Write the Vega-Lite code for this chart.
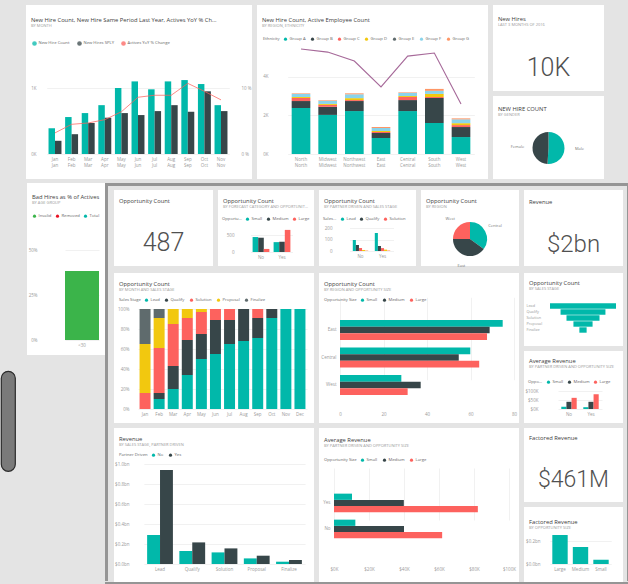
{
"background": "#e4e4e4",
"padding": {"top": 5, "left": 0, "right": 0, "bottom": 0},
"config": {
  "font": "Open Sans",
  "view": {"stroke": null},
  "point": {"size": 0, "opacity": 0, "strokeWidth": 0},
  "axis": {"domain": false, "ticks": false, "labelFontSize": 4.5, "labelColor": "#9a9a9a", "gridColor": "#ebebeb", "gridWidth": 0.7, "labelPadding": 2, "labelFlush": false, "labelOverlap": false},
  "title": {"anchor": "start", "frame": "group", "fontSize": 5.8, "fontWeight": "normal", "color": "#404040", "subtitleFontSize": 4, "subtitleColor": "#9a9a9a", "subtitlePadding": 1.5, "dx": 5, "font": "Open Sans", "subtitleFont": "Open Sans", "limit": 86},
  "legend": {"orient": "none", "direction": "horizontal", "titleOrient": "left", "labelFontSize": 4.2, "titleFontSize": 4.2, "titleFontWeight": "normal", "titleColor": "#666", "labelColor": "#666", "symbolSize": 10, "symbolType": "circle", "columnPadding": 4, "labelOffset": 1.5, "titlePadding": 3, "padding": 0, "labelLimit": 40}
},
"spacing": 4,
"resolve": {"scale": {"color": "independent", "theta": "independent", "x": "independent", "y": "independent", "xOffset": "independent", "yOffset": "independent"}},
"vconcat": [
 {"hconcat": [
   {"width": 20, "height": 174, "data": {"values": [{}]}, "mark": {"type": "point"}},
   {"width": 226, "height": 174, "view": {"fill": "white"},
    "title": {"text": "New Hire Count, New Hire Same Period Last Year, Actives YoY % Ch...", "subtitle": "BY MONTH", "offset": -23, "limit": 214},
    "layer": [
     {"data": {"values": [
       {"month": "Jan", "series": "New Hire Count", "value": 390}, {"month": "Jan", "series": "New Hires SPLY", "value": 200},
       {"month": "Feb", "series": "New Hire Count", "value": 560}, {"month": "Feb", "series": "New Hires SPLY", "value": 300},
       {"month": "Mar", "series": "New Hire Count", "value": 620}, {"month": "Mar", "series": "New Hires SPLY", "value": 470},
       {"month": "Apr", "series": "New Hire Count", "value": 740}, {"month": "Apr", "series": "New Hires SPLY", "value": 550},
       {"month": "May", "series": "New Hire Count", "value": 1000}, {"month": "May", "series": "New Hires SPLY", "value": 620},
       {"month": "Jun", "series": "New Hire Count", "value": 1100}, {"month": "Jun", "series": "New Hires SPLY", "value": 590},
       {"month": "Jul", "series": "New Hire Count", "value": 980}, {"month": "Jul", "series": "New Hires SPLY", "value": 650},
       {"month": "Aug", "series": "New Hire Count", "value": 1100}, {"month": "Aug", "series": "New Hires SPLY", "value": 740},
       {"month": "Sep", "series": "New Hire Count", "value": 1120}, {"month": "Sep", "series": "New Hires SPLY", "value": 640},
       {"month": "Oct", "series": "New Hire Count", "value": 1060}, {"month": "Oct", "series": "New Hires SPLY", "value": 950},
       {"month": "Nov", "series": "New Hire Count", "value": 740}, {"month": "Nov", "series": "New Hires SPLY", "value": 650}]},
      "mark": {"type": "bar"},
      "encoding": {
       "x": {"field": "month", "type": "nominal", "sort": null, "scale": {"range": [20.7, 203.3], "paddingInner": 0.22, "paddingOuter": 0.11}, "axis": {"title": null, "offset": -25, "labelAngle": 0, "labelExpr": "[datum.label, datum.label]"}},
       "xOffset": {"field": "series", "type": "nominal", "sort": null, "scale": {"paddingInner": 0, "paddingOuter": 0}},
       "y": {"field": "value", "type": "quantitative", "scale": {"domain": [0, 1500], "range": [149, 50], "nice": false}, "axis": {"title": null, "offset": -12, "values": [0, 1000], "labelExpr": "(datum.value/1000)+'K'"}},
       "color": {"field": "series", "type": "nominal", "sort": null, "scale": {"domain": ["New Hire Count", "New Hires SPLY", "Actives YoY % Change"], "range": ["#01B8AA", "#374649", "#FD625E"]}, "legend": {"title": null, "legendX": 6, "legendY": 35.5, "symbolType": "circle", "labelLimit": 60}}
      }},
     {"data": {"values": [
       {"month": "Jan", "series": "Actives YoY % Change", "pct": 3.2}, {"month": "Feb", "series": "Actives YoY % Change", "pct": 4.5},
       {"month": "Mar", "series": "Actives YoY % Change", "pct": 4.7}, {"month": "Apr", "series": "Actives YoY % Change", "pct": 5.2},
       {"month": "May", "series": "Actives YoY % Change", "pct": 6.4}, {"month": "Jun", "series": "Actives YoY % Change", "pct": 8.6},
       {"month": "Jul", "series": "Actives YoY % Change", "pct": 8.9}, {"month": "Aug", "series": "Actives YoY % Change", "pct": 8.9},
       {"month": "Sep", "series": "Actives YoY % Change", "pct": 10.7}, {"month": "Oct", "series": "Actives YoY % Change", "pct": 9.5},
       {"month": "Nov", "series": "Actives YoY % Change", "pct": 8.2}]},
      "mark": {"type": "line", "strokeWidth": 1, "opacity": 0.75},
      "encoding": {
       "x": {"field": "month", "type": "nominal", "sort": null},
       "y": {"field": "pct", "type": "quantitative", "scale": {"domain": [0, 15], "range": [149, 50], "nice": false}, "axis": {"title": null, "orient": "right", "offset": -13, "values": [0, 10], "labelExpr": "datum.value+' %'", "grid": false}},
       "color": {"field": "series", "type": "nominal", "sort": null}
      }}
    ],
    "resolve": {"scale": {"y": "independent"}}
   },
   {"width": 231, "height": 174, "view": {"fill": "white"},
    "title": {"text": "New Hire Count, Active Employee Count", "subtitle": "BY REGION, ETHNICITY", "offset": -23, "limit": 220},
    "layer": [
     {"data": {"values": [
       {"r": "North", "g": "Group A", "v": 2390}, {"r": "North", "g": "Group B", "v": 360}, {"r": "North", "g": "Group C", "v": 160}, {"r": "North", "g": "Group D", "v": 50}, {"r": "North", "g": "Group F", "v": 160}, {"r": "North", "g": "Group G", "v": 30},
       {"r": "Midwest", "g": "Group A", "v": 2030}, {"r": "Midwest", "g": "Group B", "v": 420}, {"r": "Midwest", "g": "Group C", "v": 100}, {"r": "Midwest", "g": "Group D", "v": 50}, {"r": "Midwest", "g": "Group F", "v": 160}, {"r": "Midwest", "g": "Group G", "v": 30},
       {"r": "Northwest", "g": "Group A", "v": 2230}, {"r": "Northwest", "g": "Group B", "v": 520}, {"r": "Northwest", "g": "Group C", "v": 50}, {"r": "Northwest", "g": "Group D", "v": 100}, {"r": "Northwest", "g": "Group F", "v": 200}, {"r": "Northwest", "g": "Group G", "v": 50},
       {"r": "East", "g": "Group A", "v": 830}, {"r": "East", "g": "Group B", "v": 260}, {"r": "East", "g": "Group C", "v": 50}, {"r": "East", "g": "Group D", "v": 50}, {"r": "East", "g": "Group F", "v": 160}, {"r": "East", "g": "Group G", "v": 50},
       {"r": "Central", "g": "Group A", "v": 2230}, {"r": "Central", "g": "Group B", "v": 570}, {"r": "Central", "g": "Group C", "v": 160}, {"r": "Central", "g": "Group D", "v": 50}, {"r": "Central", "g": "Group F", "v": 160}, {"r": "Central", "g": "Group G", "v": 30},
       {"r": "South", "g": "Group A", "v": 1610}, {"r": "South", "g": "Group B", "v": 1300}, {"r": "South", "g": "Group C", "v": 50}, {"r": "South", "g": "Group D", "v": 160}, {"r": "South", "g": "Group F", "v": 160}, {"r": "South", "g": "Group G", "v": 100},
       {"r": "West", "g": "Group A", "v": 880}, {"r": "West", "g": "Group B", "v": 520}, {"r": "West", "g": "Group C", "v": 100}, {"r": "West", "g": "Group D", "v": 100}, {"r": "West", "g": "Group F", "v": 200}, {"r": "West", "g": "Group G", "v": 50}]},
      "mark": {"type": "bar"},
      "encoding": {
       "x": {"field": "r", "type": "nominal", "sort": null, "scale": {"range": [30.67, 217.33], "paddingInner": 0.3, "paddingOuter": 0.15}, "axis": {"title": null, "offset": -25, "labelAngle": 0, "labelExpr": "[datum.label, datum.label]"}},
       "y": {"field": "v", "type": "quantitative", "stack": true, "scale": {"domain": [0, 5660], "range": [149, 40], "nice": false}, "axis": {"title": null, "offset": -13, "values": [0, 2000, 4000], "labelExpr": "(datum.value/1000)+'K'"}},
       "color": {"field": "g", "type": "nominal", "scale": {"domain": ["Group A", "Group B", "Group C", "Group D", "Group E", "Group F", "Group G"], "range": ["#01B8AA", "#374649", "#FD625E", "#F2C80F", "#5F6B6D", "#8AD4EB", "#FE9666"]}, "legend": {"title": "Ethnicity", "legendX": 6, "legendY": 31.5, "symbolType": "circle"}},
       "order": {"field": "g", "sort": "ascending"}
      }},
     {"data": {"values": [
       {"r": "North", "a": 5780}, {"r": "Midwest", "a": 5610}, {"r": "Northwest", "a": 5120}, {"r": "East", "a": 3690},
       {"r": "Central", "a": 5390}, {"r": "South", "a": 5560}, {"r": "West", "a": 2750}]},
      "mark": {"type": "line", "color": "#A66999", "strokeWidth": 1.1},
      "encoding": {
       "x": {"field": "r", "type": "nominal", "sort": null},
       "y": {"field": "a", "type": "quantitative", "scale": {"domain": [0, 6000], "range": [149, 40], "nice": false}, "axis": null}
      }}
    ],
    "resolve": {"scale": {"y": "independent"}}
   },
   {"vconcat": [
     {"vconcat": [
       {"width": 111, "height": 40, "view": {"fill": "white"}, "title": {"text": "New Hires", "subtitle": "LAST 3 MONTHS OF 2016", "offset": -22, "limit": 100}, "data": {"values": [{}]}, "mark": {"type": "point"}},
       {"width": 111, "height": 46, "view": {"fill": "white"}, "data": {"values": [{"t": "10K"}]}, "mark": {"type": "text", "fontSize": 25, "font": "Roboto", "fontWeight": 300, "color": "#505050"}, "encoding": {"text": {"field": "t"}}}
     ], "spacing": 0},
     {"vconcat": [
       {"width": 111, "height": 21, "view": {"fill": "white"}, "title": {"text": "NEW HIRE COUNT", "subtitle": "BY GENDER", "offset": -21, "limit": 100}, "data": {"values": [{}]}, "mark": {"type": "point"}},
       {"width": 111, "height": 62, "view": {"fill": "white"},
        "data": {"values": [{"g": "Male", "v": 51}, {"g": "Female", "v": 49}]},
        "encoding": {
         "theta": {"field": "v", "type": "quantitative", "stack": true},
         "order": {"field": "g", "sort": "descending"}
        },
        "layer": [
         {"mark": {"type": "arc", "outerRadius": 16}, "encoding": {"color": {"field": "g", "type": "nominal", "scale": {"domain": ["Male", "Female"], "range": ["#01B8AA", "#374649"]}, "legend": null}}},
         {"mark": {"type": "text", "radius": 31, "fontSize": 4, "color": "#777777"}, "encoding": {"text": {"field": "g"}}}
        ]}
     ], "spacing": 0, "resolve": {"scale": {"theta": "independent", "color": "independent"}}}
   ], "spacing": 5, "resolve": {"scale": {"color": "independent", "theta": "independent"}}},
   {"width": 20, "height": 174, "data": {"values": [{}]}, "mark": {"type": "point"}}
  ],
  "spacing": 5,
  "resolve": {"scale": {"color": "independent", "theta": "independent", "x": "independent", "y": "independent", "xOffset": "independent", "yOffset": "independent"}}
 },
 {"hconcat": [
   {"hconcat": [
     {"vconcat": [
       {"width": 14, "height": 187, "data": {"values": [{}]}, "mark": {"type": "point"}},
       {"width": 14, "height": 100, "view": {"fill": "#7a7a7a", "stroke": "#2b2b2b", "strokeWidth": 1.2, "cornerRadius": 7}, "data": {"values": [{}]}, "mark": {"type": "point"}}
     ], "spacing": 0},
     {"width": 78, "height": 172, "view": {"fill": "white"},
      "title": {"text": "Bad Hires as % of Actives", "subtitle": "BY AGE GROUP", "offset": -22, "limit": 72},
      "data": {"values": [{"a": "<30", "t": "Invalid", "v": 0.383}]},
      "mark": {"type": "bar"},
      "encoding": {
       "x": {"field": "a", "type": "nominal", "scale": {"range": [38, 72], "paddingInner": 0, "paddingOuter": 0}, "axis": {"title": null, "offset": -15, "labelAngle": 0}},
       "y": {"field": "v", "type": "quantitative", "scale": {"domain": [0, 0.65], "range": [157, 40], "nice": false}, "axis": {"title": null, "offset": -12, "values": [0, 0.25, 0.5], "format": ".0%"}},
       "color": {"field": "t", "type": "nominal", "scale": {"domain": ["Invalid", "Removed", "Total"], "range": ["#3BB44A", "#E81123", "#01B8AA"]}, "legend": {"title": null, "legendX": 5, "legendY": 30.5, "symbolType": "circle", "columnPadding": 3}}
      }}
   ], "spacing": 11, "resolve": {"scale": {"color": "independent", "x": "independent", "y": "independent"}}},
   {"vconcat": [
     {"width": 525, "height": 3, "view": {"fill": "#959595"}, "data": {"values": [{}]}, "mark": {"type": "point"}},
     {"hconcat": [
       {"width": 3, "height": 395, "view": {"fill": "#959595"}, "data": {"values": [{}]}, "mark": {"type": "point"}},
       {"width": 6, "height": 395, "data": {"values": [{}]}, "mark": {"type": "point"}},
       {"vconcat": [
         {"width": 509, "height": 4, "data": {"values": [{}]}, "mark": {"type": "point"}},
         {"vconcat": [
           {"hconcat": [
             {"vconcat": [
               {"width": 99, "height": 30, "view": {"fill": "white"}, "title": {"text": "Opportunity Count", "offset": -14}, "data": {"values": [{}]}, "mark": {"type": "point"}},
               {"width": 99, "height": 46, "view": {"fill": "white"}, "data": {"values": [{"t": "487"}]}, "mark": {"type": "text", "fontSize": 25, "font": "Roboto", "fontWeight": 300, "color": "#505050"}, "encoding": {"text": {"field": "t"}}}
             ], "spacing": 0},
             {"width": 96, "height": 76, "view": {"fill": "white"},
              "title": {"text": "Opportunity Count", "subtitle": "BY FORECAST CATEGORY AND OPPORTUNITY SIZE", "offset": -19, "limit": 86},
              "data": {"values": [
                {"c": "No", "s": "Small", "v": 440}, {"c": "No", "s": "Medium", "v": 420}, {"c": "No", "s": "Large", "v": 90},
                {"c": "Yes", "s": "Small", "v": 290}, {"c": "Yes", "s": "Medium", "v": 300}, {"c": "Yes", "s": "Large", "v": 650}]},
              "mark": {"type": "bar"},
              "encoding": {
               "x": {"field": "c", "type": "nominal", "sort": null, "scale": {"range": [32.5, 74.5], "paddingInner": 0.2, "paddingOuter": 0.1}, "axis": {"title": null, "offset": -14, "labelAngle": 0}},
               "xOffset": {"field": "s", "type": "nominal", "sort": null, "scale": {"paddingInner": 0, "paddingOuter": 0}},
               "y": {"field": "v", "type": "quantitative", "scale": {"domain": [0, 800], "range": [62, 34.8], "nice": false}, "axis": {"title": null, "offset": -18, "values": [0, 500]}},
               "color": {"field": "s", "type": "nominal", "sort": null, "scale": {"domain": ["Small", "Medium", "Large"], "range": ["#01B8AA", "#374649", "#FD625E"]}, "legend": {"title": "Opportu...", "legendX": 4, "legendY": 26.5, "symbolType": "circle", "columnPadding": 3}}
              }},
             {"width": 97, "height": 76, "view": {"fill": "white"},
              "title": {"text": "Opportunity Count", "subtitle": "BY PARTNER DRIVEN AND SALES STAGE", "offset": -19, "limit": 87},
              "data": {"values": [
                {"p": "No", "st": "Lead", "v": 96}, {"p": "No", "st": "Qualify", "v": 52}, {"p": "No", "st": "Solution", "v": 26}, {"p": "No", "st": "Proposal", "v": 9}, {"p": "No", "st": "Finalize", "v": 4},
                {"p": "Yes", "st": "Lead", "v": 157}, {"p": "Yes", "st": "Qualify", "v": 43}, {"p": "Yes", "st": "Solution", "v": 25}, {"p": "Yes", "st": "Proposal", "v": 12}, {"p": "Yes", "st": "Finalize", "v": 5}]},
              "mark": {"type": "bar"},
              "encoding": {
               "x": {"field": "p", "type": "nominal", "sort": null, "scale": {"range": [30.5, 74.5], "paddingInner": 0.3, "paddingOuter": 0.15}, "axis": {"title": null, "offset": -15, "labelAngle": 0}},
               "xOffset": {"field": "st", "type": "nominal", "sort": null, "scale": {"paddingInner": 0, "paddingOuter": 0}},
               "y": {"field": "v", "type": "quantitative", "scale": {"domain": [0, 250], "range": [61, 32.25], "nice": false}, "axis": {"title": null, "offset": -15, "values": [0, 100, 200]}},
               "color": {"field": "st", "type": "nominal", "sort": null, "scale": {"domain": ["Lead", "Qualify", "Solution", "Proposal", "Finalize"], "range": ["#01B8AA", "#374649", "#FD625E", "#F2C80F", "#FE9666"]}, "legend": {"title": "Sales...", "values": ["Lead", "Qualify", "Solution"], "legendX": 4, "legendY": 26.5, "symbolType": "circle", "columnPadding": 3}}
              }},
             {"vconcat": [
               {"width": 98, "height": 22, "view": {"fill": "white"}, "title": {"text": "Opportunity Count", "subtitle": "BY REGION", "offset": -19}, "data": {"values": [{}]}, "mark": {"type": "point"}},
               {"width": 98, "height": 54, "view": {"fill": "white"},
                "data": {"values": [{"r": "Central", "v": 35}, {"r": "East", "v": 40}, {"r": "West", "v": 25}]},
                "encoding": {
                 "theta": {"field": "v", "type": "quantitative", "stack": true},
                 "order": {"field": "r", "sort": "ascending"}
                },
                "layer": [
                 {"mark": {"type": "arc", "outerRadius": 17}, "encoding": {"color": {"field": "r", "type": "nominal", "scale": {"domain": ["Central", "East", "West"], "range": ["#01B8AA", "#374649", "#FD625E"]}, "legend": null}}},
                 {"mark": {"type": "text", "radius": 28, "fontSize": 4, "color": "#777777"}, "encoding": {"text": {"field": "r"}}}
                ]}
             ], "spacing": 0},
             {"vconcat": [
               {"width": 99, "height": 34, "view": {"fill": "white"}, "title": {"text": "Revenue", "offset": -15}, "data": {"values": [{}]}, "mark": {"type": "point"}},
               {"width": 99, "height": 42, "view": {"fill": "white"}, "data": {"values": [{"t": "$2bn"}]}, "mark": {"type": "text", "fontSize": 24, "font": "Roboto", "fontWeight": 300, "color": "#505050"}, "encoding": {"text": {"field": "t"}}}
             ], "spacing": 0}
           ], "spacing": 5, "resolve": {"scale": {"color": "independent", "theta": "independent", "x": "independent", "y": "independent", "xOffset": "independent", "yOffset": "independent"}}},
           {"hconcat": [
             {"width": 200, "height": 150, "view": {"fill": "white"},
              "title": {"text": "Opportunity Count", "subtitle": "BY MONTH AND SALES STAGE", "offset": -19, "limit": 190},
              "data": {"values": [
                {"m": "Jan", "st": "Solution", "sn": 3, "v": 16}, {"m": "Jan", "st": "Proposal", "sn": 4, "v": 49}, {"m": "Jan", "st": "Finalize", "sn": 5, "v": 35},
                {"m": "Feb", "st": "Lead", "sn": 1, "v": 10}, {"m": "Feb", "st": "Qualify", "sn": 2, "v": 6}, {"m": "Feb", "st": "Solution", "sn": 3, "v": 45}, {"m": "Feb", "st": "Proposal", "sn": 4, "v": 30}, {"m": "Feb", "st": "Finalize", "sn": 5, "v": 9},
                {"m": "Mar", "st": "Lead", "sn": 1, "v": 20}, {"m": "Mar", "st": "Qualify", "sn": 2, "v": 23}, {"m": "Mar", "st": "Solution", "sn": 3, "v": 42}, {"m": "Mar", "st": "Proposal", "sn": 4, "v": 15},
                {"m": "Apr", "st": "Lead", "sn": 1, "v": 34}, {"m": "Apr", "st": "Qualify", "sn": 2, "v": 35}, {"m": "Apr", "st": "Solution", "sn": 3, "v": 22}, {"m": "Apr", "st": "Proposal", "sn": 4, "v": 9},
                {"m": "May", "st": "Lead", "sn": 1, "v": 50}, {"m": "May", "st": "Qualify", "sn": 2, "v": 25}, {"m": "May", "st": "Solution", "sn": 3, "v": 22}, {"m": "May", "st": "Proposal", "sn": 4, "v": 3},
                {"m": "Jun", "st": "Lead", "sn": 1, "v": 55}, {"m": "Jun", "st": "Qualify", "sn": 2, "v": 34}, {"m": "Jun", "st": "Solution", "sn": 3, "v": 11},
                {"m": "Jul", "st": "Lead", "sn": 1, "v": 65}, {"m": "Jul", "st": "Qualify", "sn": 2, "v": 24}, {"m": "Jul", "st": "Solution", "sn": 3, "v": 11},
                {"m": "Aug", "st": "Lead", "sn": 1, "v": 68}, {"m": "Aug", "st": "Qualify", "sn": 2, "v": 32},
                {"m": "Sep", "st": "Lead", "sn": 1, "v": 71}, {"m": "Sep", "st": "Qualify", "sn": 2, "v": 20}, {"m": "Sep", "st": "Solution", "sn": 3, "v": 9},
                {"m": "Oct", "st": "Lead", "sn": 1, "v": 91}, {"m": "Oct", "st": "Qualify", "sn": 2, "v": 9},
                {"m": "Nov", "st": "Lead", "sn": 1, "v": 100},
                {"m": "Dec", "st": "Lead", "sn": 1, "v": 100}]},
              "mark": {"type": "bar"},
              "encoding": {
               "x": {"field": "m", "type": "nominal", "sort": null, "scale": {"range": [24, 193], "paddingInner": 0.22, "paddingOuter": 0.11}, "axis": {"title": null, "offset": -14, "labelAngle": 0}},
               "y": {"field": "v", "type": "quantitative", "stack": "normalize", "scale": {"domain": [0, 1], "range": [136, 36], "nice": false}, "axis": {"title": null, "offset": -17, "values": [0, 0.2, 0.4, 0.6, 0.8, 1], "format": ".0%"}},
               "color": {"field": "st", "type": "nominal", "scale": {"domain": ["Lead", "Qualify", "Solution", "Proposal", "Finalize"], "range": ["#01B8AA", "#374649", "#FD625E", "#F2C80F", "#5F6B6D"]}, "legend": {"title": "Sales Stage", "legendX": 5, "legendY": 24.5, "symbolType": "circle"}},
               "order": {"field": "sn", "type": "quantitative", "sort": "ascending"}
              }},
             {"width": 200, "height": 150, "view": {"fill": "white"},
              "title": {"text": "Opportunity Count", "subtitle": "BY REGION AND OPPORTUNITY SIZE", "offset": -19, "limit": 190},
              "data": {"values": [
                {"r": "East", "s": "Small", "v": 74.8}, {"r": "East", "s": "Medium", "v": 68.8}, {"r": "East", "s": "Large", "v": 67.6},
                {"r": "Central", "s": "Small", "v": 59.9}, {"r": "Central", "s": "Medium", "v": 54.6}, {"r": "Central", "s": "Large", "v": 64},
                {"r": "West", "s": "Small", "v": 28.2}, {"r": "West", "s": "Medium", "v": 37.1}, {"r": "West", "s": "Large", "v": 31.1}]},
              "mark": {"type": "bar"},
              "encoding": {
               "y": {"field": "r", "type": "nominal", "sort": null, "scale": {"range": [43.25, 125.75], "paddingInner": 0.27, "paddingOuter": 0.135}, "axis": {"title": null, "offset": -19}},
               "yOffset": {"field": "s", "type": "nominal", "sort": null, "scale": {"paddingInner": 0, "paddingOuter": 0}},
               "x": {"field": "v", "type": "quantitative", "scale": {"domain": [0, 80], "range": [21, 195], "nice": false}, "axis": {"title": null, "offset": -14, "values": [0, 20, 40, 60, 80]}},
               "color": {"field": "s", "type": "nominal", "sort": null, "scale": {"domain": ["Small", "Medium", "Large"], "range": ["#01B8AA", "#374649", "#FD625E"]}, "legend": {"title": "Opportunity Size", "legendX": 5, "legendY": 24.5, "symbolType": "circle"}}
              }},
             {"vconcat": [
               {"width": 99, "height": 73, "view": {"fill": "white"},
                "title": {"text": "Opportunity Count", "subtitle": "BY SALES STAGE", "offset": -18},
                "data": {"values": [{"st": "Lead", "v": 100}, {"st": "Qualify", "v": 68}, {"st": "Solution", "v": 50}, {"st": "Proposal", "v": 29}, {"st": "Finalize", "v": 11}]},
                "mark": {"type": "bar", "color": "#01B8AA"},
                "encoding": {
                 "y": {"field": "st", "type": "nominal", "sort": null, "scale": {"range": [30, 60], "paddingInner": 0.1, "paddingOuter": 0.05}, "axis": {"title": null, "offset": -4, "labelAlign": "left", "labelPadding": 2, "labelFontSize": 3.8}},
                 "x": {"field": "v", "type": "quantitative", "stack": "center", "scale": {"domain": [0, 100], "range": [26, 92], "nice": false}, "axis": null}
                }},
               {"width": 99, "height": 72, "view": {"fill": "white"},
                "title": {"text": "Average Revenue", "subtitle": "BY PARTNER DRIVEN AND OPPORTUNITY SIZE", "offset": -18, "limit": 88},
                "data": {"values": [
                  {"p": "No", "s": "Small", "v": 12}, {"p": "No", "s": "Medium", "v": 40}, {"p": "No", "s": "Large", "v": 62},
                  {"p": "Yes", "s": "Small", "v": 10}, {"p": "Yes", "s": "Medium", "v": 40}, {"p": "Yes", "s": "Large", "v": 82}]},
                "mark": {"type": "bar"},
                "encoding": {
                 "x": {"field": "p", "type": "nominal", "sort": null, "scale": {"range": [34, 78], "paddingInner": 0.3, "paddingOuter": 0.15}, "axis": {"title": null, "offset": -14, "labelAngle": 0}},
                 "xOffset": {"field": "s", "type": "nominal", "sort": null, "scale": {"paddingInner": 0, "paddingOuter": 0}},
                 "y": {"field": "v", "type": "quantitative", "scale": {"domain": [0, 120], "range": [58, 36.4], "nice": false}, "axis": {"title": null, "offset": -16, "values": [0, 50, 100], "labelExpr": "'$'+datum.value+'K'"}},
                 "color": {"field": "s", "type": "nominal", "sort": null, "scale": {"domain": ["Small", "Medium", "Large"], "range": ["#01B8AA", "#374649", "#FD625E"]}, "legend": {"title": "Oppo...", "legendX": 4, "legendY": 28.5, "symbolType": "circle", "columnPadding": 3}}
                }}
             ], "spacing": 5, "resolve": {"scale": {"color": "independent", "x": "independent", "y": "independent", "xOffset": "independent"}}}
           ], "spacing": 5, "resolve": {"scale": {"color": "independent", "theta": "independent", "x": "independent", "y": "independent", "xOffset": "independent", "yOffset": "independent"}}},
           {"hconcat": [
             {"width": 200, "height": 154, "view": {"fill": "white"},
              "title": {"text": "Revenue", "subtitle": "BY SALES STAGE, PARTNER DRIVEN", "offset": -19, "limit": 190},
              "data": {"values": [
                {"st": "Lead", "pd": "No", "v": 0.29}, {"st": "Lead", "pd": "Yes", "v": 0.94},
                {"st": "Qualify", "pd": "No", "v": 0.13}, {"st": "Qualify", "pd": "Yes", "v": 0.216},
                {"st": "Solution", "pd": "No", "v": 0.116}, {"st": "Solution", "pd": "Yes", "v": 0.156},
                {"st": "Proposal", "pd": "No", "v": 0.056}, {"st": "Proposal", "pd": "Yes", "v": 0.083},
                {"st": "Finalize", "pd": "No", "v": 0.023}, {"st": "Finalize", "pd": "Yes", "v": 0.04}]},
              "mark": {"type": "bar"},
              "encoding": {
               "x": {"field": "st", "type": "nominal", "sort": null, "scale": {"range": [29.9, 191.1], "paddingInner": 0.2, "paddingOuter": 0.1}, "axis": {"title": null, "offset": -18, "labelAngle": 0}},
               "xOffset": {"field": "pd", "type": "nominal", "sort": null, "scale": {"paddingInner": 0, "paddingOuter": 0}},
               "y": {"field": "v", "type": "quantitative", "scale": {"domain": [0, 1], "range": [136, 36], "nice": false}, "axis": {"title": null, "offset": -17, "values": [0, 0.2, 0.4, 0.6, 0.8, 1], "labelExpr": "'$'+format(datum.value,'.1f')+'bn'"}},
               "color": {"field": "pd", "type": "nominal", "sort": null, "scale": {"domain": ["No", "Yes"], "range": ["#01B8AA", "#374649"]}, "legend": {"title": "Partner Driven", "legendX": 5, "legendY": 24.5, "symbolType": "circle"}}
              }},
             {"width": 200, "height": 154, "view": {"fill": "white"},
              "title": {"text": "Average Revenue", "subtitle": "BY PARTNER DRIVEN AND OPPORTUNITY SIZE", "offset": -20, "limit": 190},
              "data": {"values": [
                {"p": "Yes", "s": "Small", "v": 10.3}, {"p": "Yes", "s": "Medium", "v": 39.9}, {"p": "Yes", "s": "Large", "v": 82.2},
                {"p": "No", "s": "Small", "v": 12.2}, {"p": "No", "s": "Medium", "v": 40}, {"p": "No", "s": "Large", "v": 61.8}]},
              "mark": {"type": "bar"},
              "encoding": {
               "y": {"field": "p", "type": "nominal", "sort": null, "scale": {"range": [62, 114], "paddingInner": 0.28, "paddingOuter": 0.14}, "axis": {"title": null, "offset": -13}},
               "yOffset": {"field": "s", "type": "nominal", "sort": null, "scale": {"paddingInner": 0, "paddingOuter": 0}},
               "x": {"field": "v", "type": "quantitative", "scale": {"domain": [0, 100], "range": [15, 190], "nice": false}, "axis": {"title": null, "offset": -18, "values": [0, 20, 40, 60, 80, 100], "labelExpr": "'$'+datum.value+'K'"}},
               "color": {"field": "s", "type": "nominal", "sort": null, "scale": {"domain": ["Small", "Medium", "Large"], "range": ["#01B8AA", "#374649", "#FD625E"]}, "legend": {"title": "Opportunity Size", "legendX": 5, "legendY": 29.5, "symbolType": "circle"}}
              }},
             {"vconcat": [
               {"vconcat": [
                 {"width": 99, "height": 29, "view": {"fill": "white"}, "title": {"text": "Factored Revenue", "offset": -13}, "data": {"values": [{}]}, "mark": {"type": "point"}},
                 {"width": 99, "height": 45, "view": {"fill": "white"}, "data": {"values": [{"t": "$461M"}]}, "mark": {"type": "text", "fontSize": 23, "font": "Roboto", "fontWeight": 300, "color": "#505050"}, "encoding": {"text": {"field": "t"}}}
               ], "spacing": 0},
               {"width": 99, "height": 75, "view": {"fill": "white"},
                "title": {"text": "Factored Revenue", "subtitle": "BY OPPORTUNITY SIZE", "offset": -23},
                "data": {"values": [{"s": "Large", "v": 0.252}, {"s": "Medium", "v": 0.148}, {"s": "Small", "v": 0.037}]},
                "mark": {"type": "bar", "color": "#01B8AA"},
                "encoding": {
                 "x": {"field": "s", "type": "nominal", "sort": null, "scale": {"range": [25.75, 87.25], "paddingInner": 0.25, "paddingOuter": 0.125}, "axis": {"title": null, "offset": -18, "labelAngle": 0}},
                 "y": {"field": "v", "type": "quantitative", "scale": {"domain": [0, 0.3], "range": [57, 22.5], "nice": false}, "axis": {"title": null, "offset": -18, "values": [0, 0.2], "labelExpr": "'$'+format(datum.value,'.1f')+'bn'"}}
                }}
             ], "spacing": 5, "resolve": {"scale": {"x": "independent", "y": "independent"}}}
           ], "spacing": 5, "resolve": {"scale": {"color": "independent", "theta": "independent", "x": "independent", "y": "independent", "xOffset": "independent", "yOffset": "independent"}}}
         ], "spacing": 5, "resolve": {"scale": {"color": "independent", "theta": "independent", "x": "independent", "y": "independent", "xOffset": "independent", "yOffset": "independent"}}}
       ], "spacing": 0, "resolve": {"scale": {"color": "independent", "theta": "independent", "x": "independent", "y": "independent", "xOffset": "independent", "yOffset": "independent"}}},
       {"width": 4, "height": 395, "data": {"values": [{}]}, "mark": {"type": "point"}},
       {"width": 3, "height": 395, "view": {"fill": "#959595"}, "data": {"values": [{}]}, "mark": {"type": "point"}}
     ], "spacing": 0, "resolve": {"scale": {"color": "independent", "theta": "independent", "x": "independent", "y": "independent", "xOffset": "independent", "yOffset": "independent"}}},
     {"width": 525, "height": 3, "view": {"fill": "#959595"}, "data": {"values": [{}]}, "mark": {"type": "point"}}
   ], "spacing": 0, "resolve": {"scale": {"color": "independent", "theta": "independent", "x": "independent", "y": "independent", "xOffset": "independent", "yOffset": "independent"}}}
  ],
  "spacing": 0,
  "resolve": {"scale": {"color": "independent", "theta": "independent", "x": "independent", "y": "independent", "xOffset": "independent", "yOffset": "independent"}}
 }
]
}
